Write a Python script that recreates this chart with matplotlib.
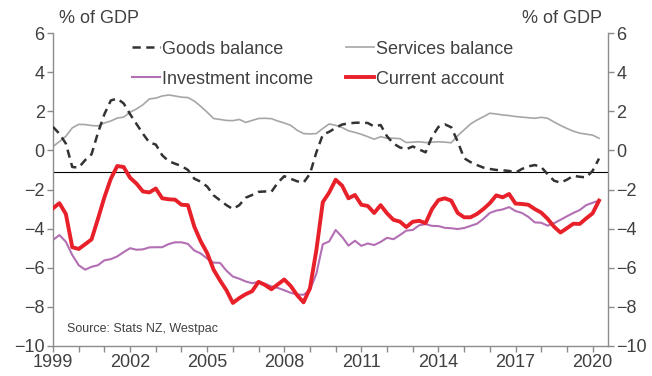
import numpy as np
import matplotlib
matplotlib.use("Agg")
import matplotlib.pyplot as plt

plt.rcParams["font.family"] = ["Liberation Sans", "DejaVu Sans"]

# quarterly, % of GDP, starting 1999 Q1
goods_balance = [
    1.2, 0.85, 0.35, -0.85, -0.88, -0.5, -0.2, 0.9, 1.85, 2.55, 2.65, 2.4,
    1.85, 1.35, 0.85, 0.4, 0.3, -0.25, -0.55, -0.68, -0.8, -1.0, -1.45, -1.6,
    -1.85, -2.3, -2.55, -2.8, -3.0, -2.8, -2.42, -2.28, -2.12, -2.1, -2.12, -1.65,
    -1.32, -1.45, -1.58, -1.65, -1.2, -0.1, 0.8, 0.95, 1.15, 1.32, 1.38, 1.41,
    1.42, 1.4, 1.22, 1.3, 0.72, 0.35, 0.15, 0.06, 0.2, 0.05, -0.1, 0.7,
    1.2, 1.33, 1.18, 0.45, -0.4, -0.6, -0.75, -0.88, -0.95, -1.0, -1.02, -1.05,
    -1.14, -0.95, -0.82, -0.75, -0.85, -1.22, -1.55, -1.65, -1.5, -1.3, -1.35, -1.38,
    -1.05, -0.42,
]
services_balance = [
    0.2, 0.45, 0.72, 1.15, 1.33, 1.32, 1.27, 1.25, 1.4, 1.5, 1.65, 1.7,
    1.95, 2.12, 2.33, 2.63, 2.67, 2.78, 2.83, 2.78, 2.72, 2.7, 2.52, 2.25,
    1.95, 1.63, 1.58, 1.53, 1.52, 1.58, 1.43, 1.53, 1.63, 1.64, 1.62, 1.5,
    1.4, 1.28, 1.03, 0.86, 0.84, 0.86, 1.12, 1.35, 1.28, 1.17, 1.0, 0.92,
    0.82, 0.7, 0.57, 0.7, 0.62, 0.62, 0.6, 0.4, 0.42, 0.44, 0.4, 0.42,
    0.44, 0.42, 0.39, 0.75, 1.05, 1.35, 1.55, 1.72, 1.9, 1.86, 1.81, 1.78,
    1.73, 1.7, 1.67, 1.64, 1.69, 1.64, 1.45, 1.28, 1.12, 0.98, 0.88, 0.83,
    0.78, 0.62,
]
investment_income = [
    -4.58, -4.33, -4.67, -5.35, -5.87, -6.1, -5.95, -5.87, -5.62, -5.56, -5.42, -5.2,
    -5.0, -5.08, -5.06, -4.96, -4.95, -4.95, -4.79, -4.7, -4.7, -4.78, -5.12, -5.27,
    -5.53, -5.74, -5.75, -6.15, -6.45, -6.56, -6.7, -6.79, -6.72, -6.82, -6.95, -7.03,
    -7.15, -7.28, -7.37, -7.38, -7.15, -6.3, -4.8, -4.65, -4.07, -4.42, -4.87, -4.62,
    -4.88, -4.76, -4.84, -4.68, -4.47, -4.54, -4.33, -4.1, -4.07, -3.83, -3.77, -3.86,
    -3.87, -3.96, -3.98, -4.02, -3.97, -3.86, -3.75, -3.5, -3.2, -3.08, -3.02, -2.9,
    -3.1, -3.2, -3.4, -3.68, -3.7, -3.85, -3.72, -3.55, -3.37, -3.2, -3.05, -2.8,
    -2.68, -2.57,
]
current_account = [
    -2.96, -2.7, -3.25, -4.95, -5.04, -4.8, -4.55, -3.5, -2.4, -1.45, -0.8, -0.85,
    -1.4, -1.7, -2.1, -2.15, -1.95, -2.45, -2.5, -2.52, -2.78, -2.8, -3.9, -4.65,
    -5.25, -6.1, -6.65, -7.15, -7.8, -7.55, -7.35, -7.2, -6.72, -6.88, -7.1, -6.85,
    -6.6, -6.93, -7.4, -7.77, -7.05, -5.1, -2.65, -2.15, -1.5, -1.8, -2.45, -2.28,
    -2.78, -2.84, -3.2, -2.8, -3.22, -3.55, -3.64, -3.92, -3.65, -3.6, -3.72, -3.0,
    -2.54, -2.45, -2.57, -3.2, -3.42, -3.42, -3.25, -3.0, -2.7, -2.3, -2.4, -2.23,
    -2.72, -2.74, -2.78, -3.0, -3.18, -3.5, -3.9, -4.2, -3.98, -3.75, -3.76, -3.48,
    -3.22, -2.57,
]
reference_level = -1.1

year_ticks = list(range(1999, 2021))
year_labels = [str(y) if (y - 1999) % 3 == 0 else "" for y in year_ticks]
y_ticks = [6, 4, 2, 0, -2, -4, -6, -8, -10]

dates = 1999 + 0.25 * np.arange(len(current_account))

TEXT = "#404040"
SPINE = "#8c8c8c"

fig = plt.figure(figsize=(6.52, 3.76), dpi=100)
ax = fig.add_axes([53 / 652, 1 - 346 / 376, 555 / 652, 313 / 376])

ax.axhline(reference_level, color="black", lw=0.8, zorder=1)
ax.plot(dates, goods_balance, color="#333333", lw=1.8, ls=(0, (3.3, 2.2)),
        label="Goods balance", zorder=3)
ax.plot(dates, investment_income, color="#b36fb3", lw=1.5,
        label="Investment income", zorder=2)
ax.plot(dates, services_balance, color="#a6a6a6", lw=1.2,
        label="Services balance", zorder=2)
ax.plot(dates, current_account, color="#e8202a", lw=2.8,
        label="Current account", zorder=4)

ax.set_xlim(1999, 2020.6)
ax.set_ylim(-10, 6)
ax.set_xticks(year_ticks)
ax.set_xticklabels(year_labels)
ax.set_yticks(y_ticks)

ax2 = ax.twinx()
ax2.set_ylim(-10, 6)
ax2.set_yticks(y_ticks)

for a in (ax, ax2):
    for sp in a.spines.values():
        sp.set_color(SPINE)
        sp.set_linewidth(1.0)
    a.spines["top"].set_visible(False)
    a.tick_params(axis="both", colors=SPINE, labelcolor=TEXT, labelsize=13,
                  length=4, width=1.0, direction="out", pad=2)
ax.spines["right"].set_visible(False)
ax2.spines["left"].set_visible(False)
ax2.spines["bottom"].set_visible(False)

ax.text(0.01, 1.02, "% of GDP", transform=ax.transAxes, ha="left",
        va="bottom", fontsize=13, color=TEXT)
ax.text(0.99, 1.02, "% of GDP", transform=ax.transAxes, ha="right",
        va="bottom", fontsize=13, color=TEXT)
ax.text(0.025, 0.055, "Source: Stats NZ, Westpac", transform=ax.transAxes,
        ha="left", va="center", fontsize=9, color=TEXT)

leg = ax.legend(ncol=2, loc="upper left", bbox_to_anchor=(0.142, 0.976),
                frameon=False, fontsize=13, handlelength=1.55,
                handletextpad=0.12, columnspacing=1.8, labelspacing=0.72,
                borderaxespad=0, borderpad=0)
for t in leg.get_texts():
    t.set_color(TEXT)

fig.savefig("out.png", dpi=100)
